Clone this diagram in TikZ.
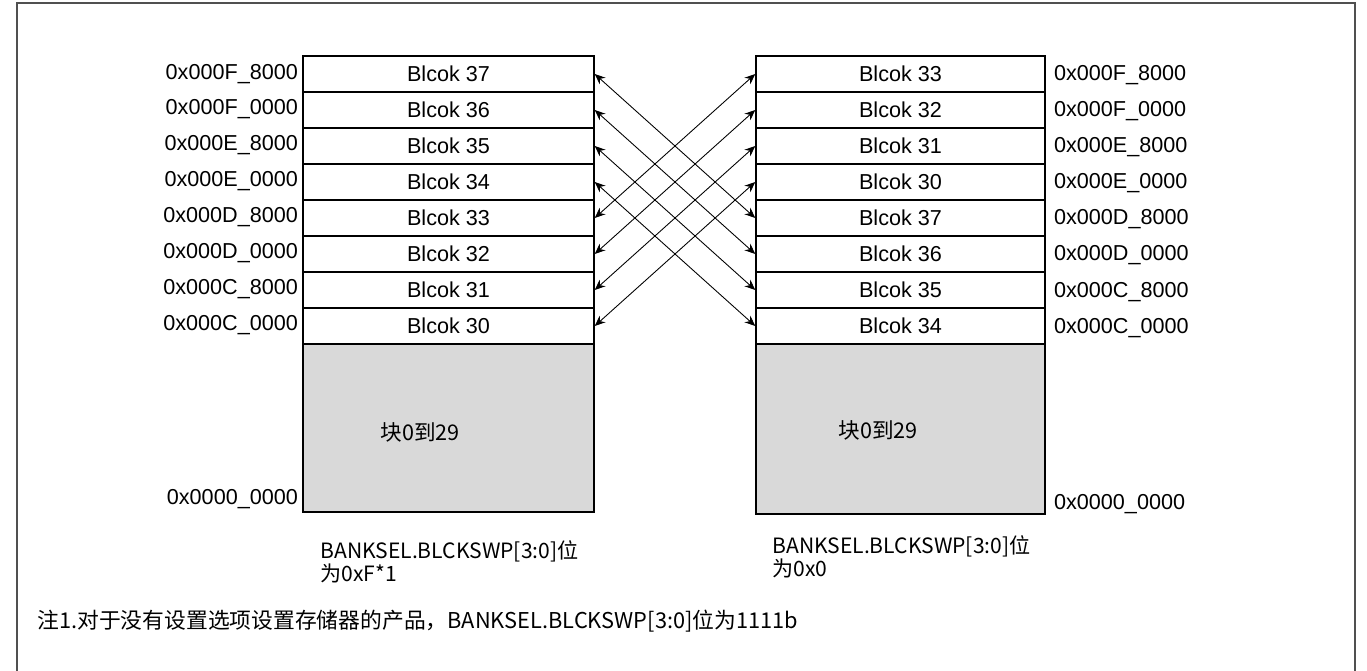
\documentclass[tikz,border=0pt]{standalone}
\usepackage{fontspec}
\setmainfont{Liberation Sans}
\newfontfamily\cjk{Noto Sans CJK SC}
\usetikzlibrary{arrows.meta}
\definecolor{blockgray}{RGB}{217,217,217}
\definecolor{framegray}{RGB}{80,80,80}

\begin{document}
\begin{tikzpicture}[x=0.02cm,y=-0.02cm,
    font=\fontsize{12.3}{14}\selectfont,
    blockrow/.style={draw,line width=0.9pt,minimum width=5.82cm,minimum height=0.72cm,inner sep=0pt},
    lowpart/.style={draw,line width=0.9pt,fill=blockgray,minimum width=5.82cm,inner sep=0pt},
    addr/.style={inner sep=1pt},
    swap/.style={{Stealth[length=6pt,width=5pt]}-{Stealth[length=6pt,width=5pt]},line width=0.5pt},
    cjktext/.style={font=\cjk\fontsize{12}{12}\selectfont,align=left,inner sep=0pt}]
  \useasboundingbox (0,0) rectangle (1367,671);
  % outer frame, open at the bottom
  \draw[framegray,line width=1.2pt] (17,671) -- (17,3) -- (1355,3) -- (1355,671);

  % left bank (BLCKSWP = 0xF)
  \node[blockrow] (l37) at (448.5,74) {Blcok 37};
  \node[blockrow] (l36) at (448.5,110) {Blcok 36};
  \node[blockrow] (l35) at (448.5,146) {Blcok 35};
  \node[blockrow] (l34) at (448.5,182) {Blcok 34};
  \node[blockrow] (l33) at (448.5,218) {Blcok 33};
  \node[blockrow] (l32) at (448.5,254) {Blcok 32};
  \node[blockrow] (l31) at (448.5,290) {Blcok 31};
  \node[blockrow] (l30) at (448.5,326) {Blcok 30};
  \node[lowpart,minimum height=3.36cm] (llow) at (448.5,428) {};
  \node (llowtxt) at (420,432) {\cjk 块0到29};

  \node[addr,anchor=east] (la1) at (300,74) {0x000F\_8000};
  \node[addr,anchor=east] (la2) at (300,109) {0x000F\_0000};
  \node[addr,anchor=east] (la3) at (300,145) {0x000E\_8000};
  \node[addr,anchor=east] (la4) at (300,181) {0x000E\_0000};
  \node[addr,anchor=east] (la5) at (300,217) {0x000D\_8000};
  \node[addr,anchor=east] (la6) at (300,253) {0x000D\_0000};
  \node[addr,anchor=east] (la7) at (300,289) {0x000C\_8000};
  \node[addr,anchor=east] (la8) at (300,325) {0x000C\_0000};
  \node[addr,anchor=east] (la0) at (300,499) {0x0000\_0000};

  % right bank (BLCKSWP = 0x0)
  \node[blockrow,minimum width=5.78cm] (r33) at (900.5,74) {Blcok 33};
  \node[blockrow,minimum width=5.78cm] (r32) at (900.5,110) {Blcok 32};
  \node[blockrow,minimum width=5.78cm] (r31) at (900.5,146) {Blcok 31};
  \node[blockrow,minimum width=5.78cm] (r30) at (900.5,182) {Blcok 30};
  \node[blockrow,minimum width=5.78cm] (r37) at (900.5,218) {Blcok 37};
  \node[blockrow,minimum width=5.78cm] (r36) at (900.5,254) {Blcok 36};
  \node[blockrow,minimum width=5.78cm] (r35) at (900.5,290) {Blcok 35};
  \node[blockrow,minimum width=5.78cm] (r34) at (900.5,326) {Blcok 34};
  \node[lowpart,minimum width=5.78cm,minimum height=3.4cm] (rlow) at (900.5,429) {};
  \node (rlowtxt) at (878,430) {\cjk 块0到29};

  \node[addr,anchor=west] (ra1) at (1052,75) {0x000F\_8000};
  \node[addr,anchor=west] (ra2) at (1052,111) {0x000F\_0000};
  \node[addr,anchor=west] (ra3) at (1052,147) {0x000E\_8000};
  \node[addr,anchor=west] (ra4) at (1052,183) {0x000E\_0000};
  \node[addr,anchor=west] (ra5) at (1052,219) {0x000D\_8000};
  \node[addr,anchor=west] (ra6) at (1052,255) {0x000D\_0000};
  \node[addr,anchor=west] (ra7) at (1052,292) {0x000C\_8000};
  \node[addr,anchor=west] (ra8) at (1052,328) {0x000C\_0000};
  \node[addr,anchor=west] (ra0) at (1052,504) {0x0000\_0000};

  % swapped blocks
  \draw[swap] (l37.east) -- (r37.west);
  \draw[swap] (l36.east) -- (r36.west);
  \draw[swap] (l35.east) -- (r35.west);
  \draw[swap] (l34.east) -- (r34.west);
  \draw[swap] (l33.east) -- (r33.west);
  \draw[swap] (l32.east) -- (r32.west);
  \draw[swap] (l31.east) -- (r31.west);
  \draw[swap] (l30.east) -- (r30.west);

  % captions
  \node[cjktext,anchor=north west] (lcap) at (320,540) {BANKSEL.BLCKSWP[3:0]位\\为0xF*1};
  \node[cjktext,anchor=north west] (rcap) at (772,535) {BANKSEL.BLCKSWP[3:0]位\\为0x0};
  \node[cjktext,anchor=west,font=\cjk\fontsize{12.4}{12}\selectfont] (note) at (37,621) {注1.对于没有设置选项设置存储器的产品，BANKSEL.BLCKSWP[3:0]位为1111b};
\end{tikzpicture}
\end{document}
